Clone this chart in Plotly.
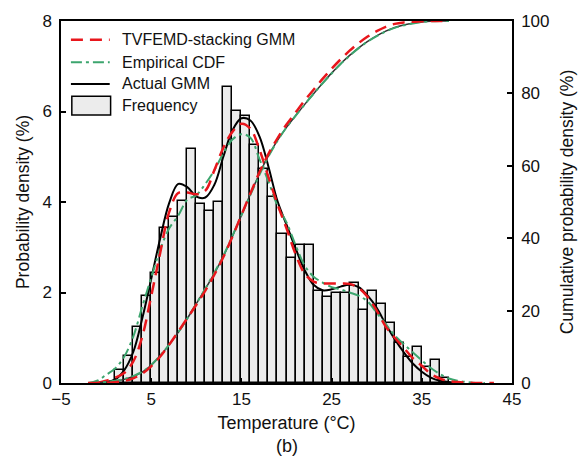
import plotly.graph_objects as go

# ---------------- data ----------------
bin_left = list(range(1, 38))
freq = [0.28, 0.59, 1.23, 1.92, 2.44, 3.42, 3.66, 4.02, 5.18, 3.95,
        3.80, 3.99, 6.55, 6.02, 5.91, 5.26, 4.74, 4.12, 3.29, 2.77,
        3.04, 3.04, 2.03, 1.89, 2.00, 2.00, 2.20, 1.61, 2.03, 1.74,
        1.32, 0.88, 0.57, 0.80, 0.35, 0.51, 0.10]

# PDF curves (%)
t_actual = [0, 1, 2, 3, 4, 5, 6, 7, 8, 9, 10, 11, 12, 13, 14, 15, 16, 17, 18, 19,
            20, 21, 22, 23, 24, 25, 26, 27, 28, 29, 30, 31, 32, 33, 34, 35, 36, 37, 38, 39]
pdf_actual = [0.02, 0.08, 0.28, 0.68, 1.42, 2.30, 3.20, 3.98, 4.40, 4.33,
              4.12, 4.10, 4.38, 5.00, 5.58, 5.85, 5.80, 5.45, 4.78, 4.02,
              3.50, 2.98, 2.50, 2.17, 2.05, 2.07, 2.13, 2.17, 2.12, 1.93,
              1.66, 1.30, 0.97, 0.68, 0.43, 0.25, 0.12, 0.05, 0.02, 0.0]

t_tvf = [-1, 0, 1, 2, 3, 4, 5, 6, 7, 8, 9, 10, 11, 12, 13, 14, 15, 16, 17, 18,
         19, 20, 21, 22, 23, 24, 25, 26, 27, 28, 29, 30, 31, 32, 33, 34, 35, 36, 37,
         38, 39, 40, 41, 43]
pdf_tvf = [0.0, 0.05, 0.12, 0.22, 0.47, 1.02, 1.92, 2.88, 3.78, 4.20,
           4.21, 4.17, 4.25, 4.70, 5.20, 5.55, 5.73, 5.62, 5.16, 4.55,
           3.95, 3.42, 2.85, 2.42, 2.24, 2.20, 2.20, 2.20, 2.19, 2.10,
           1.90, 1.60, 1.25, 1.00, 0.78, 0.55, 0.38, 0.20, 0.10,
           0.04, 0.02, 0.01, 0.0, 0.0]

t_emp = [-2, -1, 0, 1, 2, 3, 4, 5, 6, 7, 8, 9, 10, 11, 12, 13, 14, 15, 16, 17,
         18, 19, 20, 21, 22, 23, 24, 25, 26, 27, 28, 29, 30, 31, 32, 33, 34, 35,
         36, 37, 38, 39, 40, 41, 42]
pdf_emp = [0.0, 0.05, 0.18, 0.32, 0.58, 1.02, 1.68, 2.33, 2.95, 3.42,
           3.70, 4.05, 4.15, 4.40, 4.70, 5.08, 5.38, 5.50, 5.42, 4.95,
           4.45, 3.92, 3.55, 3.05, 2.60, 2.35, 2.22, 2.12, 2.07, 2.00,
           1.93, 1.80, 1.55, 1.30, 1.05, 0.86, 0.68, 0.50, 0.33, 0.20,
           0.10, 0.05, 0.02, 0.0, 0.0]

# CDF curves (%)
t_cdf = [-2, -1, 0, 1, 2, 3, 4, 5, 6, 7, 8, 9, 10, 11, 12, 13, 14, 15, 16, 17,
         18, 19, 20, 21, 22, 23, 24, 25, 26, 27, 28, 29, 30, 31, 32, 33, 34, 35,
         36, 37, 38]
cdf_actual = [0.0, 0.05, 0.2, 0.5, 1.0, 1.8, 3.0, 4.9, 7.5, 10.6,
              14.0, 17.8, 21.9, 26.0, 30.3, 35.0, 40.5, 46.3, 52.2, 57.8,
              62.8, 67.0, 70.6, 73.8, 76.9, 79.9, 82.8, 85.6, 88.2, 90.5,
              92.6, 94.4, 95.9, 97.2, 98.2, 98.9, 99.4, 99.7, 99.9, 100.0, 100.0]
cdf_tvf = [0.0, 0.0, 0.05, 0.2, 0.6, 1.3, 2.6, 4.6, 7.3, 10.6,
           14.2, 17.9, 21.6, 25.5, 29.9, 34.8, 40.4, 46.4, 52.4, 58.2,
           63.3, 67.6, 71.4, 74.7, 78.0, 81.0, 84.0, 86.8, 89.4, 91.8,
           93.9, 95.7, 97.2, 98.4, 99.2, 99.6, 99.8, 99.9, 100.0, 100.0, 100.0]
cdf_emp = [0.0, 0.1, 0.3, 0.6, 1.1, 1.9, 3.1, 5.0, 7.6, 10.6,
           14.0, 17.8, 21.9, 26.1, 30.5, 35.2, 40.6, 46.3, 52.0, 57.5,
           62.6, 66.9, 70.6, 73.8, 76.9, 79.9, 82.8, 85.5, 88.1, 90.4,
           92.5, 94.3, 95.8, 97.1, 98.1, 98.8, 99.3, 99.7, 99.9, 100.0, 100.0]

x_ticks = [-5, 5, 15, 25, 35, 45]
y_ticks = [0, 2, 4, 6, 8]
y2_ticks = [0, 20, 40, 60, 80, 100]

legend_names = ["TVFEMD-stacking GMM", "Empirical CDF", "Actual GMM", "Frequency"]

# ---------------- styles ----------------
FONT = "Liberation Sans, Arial, sans-serif"
TXT = "#111111"
RED = "#e8161c"
GREEN = "#3ca56e"
BLACK = "#000000"
BAR_FILL = "#ececec"
red_dash = "12px,7px"
green_dash = "11px,4px,3px,4px"

fig = go.Figure()

fig.add_trace(go.Bar(
    x=[b + 0.5 for b in bin_left], y=freq, width=1,
    marker=dict(color=BAR_FILL, line=dict(color=BLACK, width=1.5)),
    name=legend_names[3], showlegend=False))

# PDFs
fig.add_trace(go.Scatter(x=t_actual, y=pdf_actual, mode="lines", line_shape="spline",
                         line=dict(color=BLACK, width=2), name=legend_names[2], showlegend=False))
fig.add_trace(go.Scatter(x=t_emp, y=pdf_emp, mode="lines", line_shape="spline",
                         line=dict(color=GREEN, width=2, dash=green_dash),
                         name=legend_names[1], showlegend=False))
fig.add_trace(go.Scatter(x=t_tvf, y=pdf_tvf, mode="lines", line_shape="spline",
                         line=dict(color=RED, width=2.5, dash=red_dash),
                         name=legend_names[0], showlegend=False))

# CDFs
fig.add_trace(go.Scatter(x=t_cdf, y=cdf_actual, mode="lines", line_shape="spline", yaxis="y2",
                         line=dict(color="#333333", width=1.5), showlegend=False))
fig.add_trace(go.Scatter(x=t_cdf, y=cdf_emp, mode="lines", line_shape="spline", yaxis="y2",
                         line=dict(color=GREEN, width=2, dash=green_dash), showlegend=False))
fig.add_trace(go.Scatter(x=t_cdf, y=cdf_tvf, mode="lines", line_shape="spline", yaxis="y2",
                         line=dict(color=RED, width=2.5, dash=red_dash), showlegend=False))

axis_common = dict(showgrid=False, zeroline=False, showline=True, linecolor=BLACK,
                   linewidth=1.5, ticks="inside", ticklen=5, tickwidth=1.5,
                   tickcolor=BLACK, tickfont=dict(family=FONT, size=17, color=TXT))

# ---- hand-drawn legend (wide symbols like the reference) ----
leg_x0, leg_x1, leg_tx = 0.022, 0.108, 0.130
row_y = [0.948, 0.886, 0.826, 0.766]
shapes = [
    dict(type="line", xref="paper", yref="paper", x0=leg_x0, x1=leg_x1, y0=row_y[0], y1=row_y[0],
         line=dict(color=RED, width=2.5, dash=red_dash)),
    dict(type="line", xref="paper", yref="paper", x0=leg_x0, x1=leg_x1, y0=row_y[1], y1=row_y[1],
         line=dict(color=GREEN, width=2, dash=green_dash)),
    dict(type="line", xref="paper", yref="paper", x0=leg_x0, x1=leg_x1, y0=row_y[2], y1=row_y[2],
         line=dict(color=BLACK, width=2)),
    dict(type="rect", xref="paper", yref="paper", x0=leg_x0 + 0.002, x1=leg_x1 + 0.002,
         y0=row_y[3] - 0.026, y1=row_y[3] + 0.026,
         fillcolor=BAR_FILL, line=dict(color=BLACK, width=1.5)),
]
annotations = [
    dict(text=name, xref="paper", yref="paper", x=leg_tx, y=yy, xanchor="left", yanchor="middle",
         showarrow=False, font=dict(family=FONT, size=16, color=TXT))
    for name, yy in zip(legend_names, row_y)
]
annotations.append(dict(text="(b)", xref="paper", yref="paper", x=0.5, y=-0.175,
                        xanchor="center", yanchor="middle", showarrow=False,
                        font=dict(family=FONT, size=18, color=TXT)))

fig.update_layout(
    width=586, height=468,
    margin=dict(l=61, r=72, t=18, b=85),
    paper_bgcolor="white", plot_bgcolor="white",
    bargap=0,
    font=dict(family=FONT, size=16, color=TXT),
    xaxis=dict(range=[-5, 45], tickvals=x_ticks, mirror=True,
               title=dict(text="Temperature (°C)", font=dict(family=FONT, size=18, color=TXT), standoff=8),
               **axis_common),
    yaxis=dict(range=[0, 8], tickvals=y_ticks, ticklabelstandoff=4,
               title=dict(text="Probability density (%)", font=dict(family=FONT, size=17.5, color=TXT), standoff=8),
               **axis_common),
    yaxis2=dict(range=[0, 100], tickvals=y2_ticks, overlaying="y", side="right", ticklabelstandoff=4,
                title=dict(text="Cumulative probability density (%)", font=dict(family=FONT, size=17.5, color=TXT),
                           standoff=12),
                **axis_common),
    showlegend=False,
    shapes=shapes,
    annotations=annotations,
)

fig.write_html("out.html")
